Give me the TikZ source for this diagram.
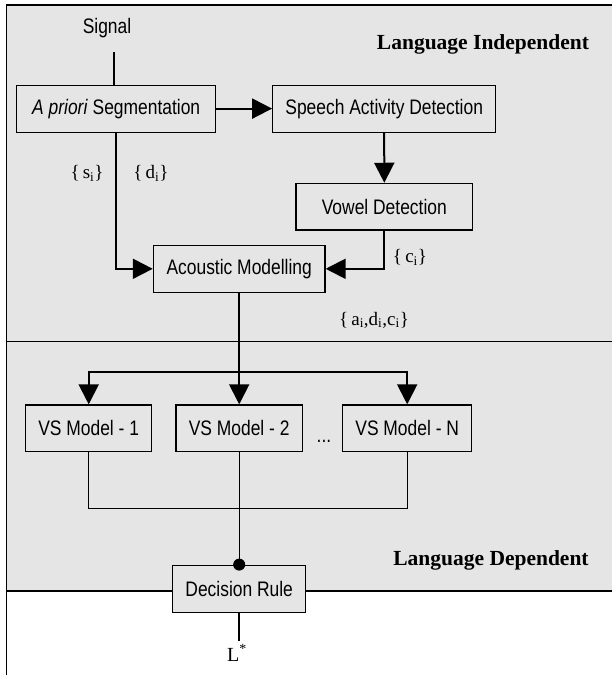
\documentclass[tikz,border=0pt]{standalone}
\usepackage{fontspec}
\usetikzlibrary{arrows.meta}
\newfontfamily\helv[FakeStretch=0.83]{Liberation Sans}
\newfontfamily\tms{Liberation Serif}
\definecolor{panel}{gray}{0.9}
\tikzset{
  blk/.style={draw,line width=1.2pt,fill=panel,inner sep=0pt,font=\helv\fontsize{21}{24}\selectfont},
  flow/.style={line width=2pt,-{Triangle[width=20pt,length=20pt]}},
  feed/.style={line width=2pt},
  wire/.style={line width=1.2pt},
  lbl/.style={font=\tms\fontsize{19}{22}\selectfont},
  zone/.style={font=\tms\bfseries\fontsize{21.5}{24}\selectfont}
}

\begin{document}
\begin{tikzpicture}[x=1pt,y=-1pt]
  \useasboundingbox (0,0) rectangle (612,675);
  \fill[panel] (6.7,5) rectangle (612,591);
  \draw[line width=1.5pt] (612,5) -- (6.7,5) -- (6.7,675);
  \draw[line width=1.5pt] (6.7,341.7) -- (612,341.7) (6.7,591) -- (612,591);
  \node[zone] (indep) at (483,44) {Language Independent};
  \node[zone] (dep) at (491,560) {Language Dependent};

  \node[font=\helv\fontsize{21}{24}\selectfont] (sig) at (107,28) {Signal};
  \coordinate (sigtop) at (114,52);
  \node[blk,minimum width=199pt,minimum height=47pt] (seg) at (116.2,108.6) {\textit{A priori} Segmentation};
  \node[blk,minimum width=223pt,minimum height=47pt] (sad) at (384.2,108.6) {Speech Activity Detection};
  \node[blk,minimum width=176.7pt,minimum height=46.7pt] (vowel) at (384.3,206.7) {Vowel Detection};
  \node[blk,minimum width=171.7pt,minimum height=47pt] (acm) at (239.2,268.8) {Acoustic Modelling};

  \draw[feed] (sigtop) -- (sigtop |- seg.north);
  \draw[flow] (seg.east) -- (sad.west);
  \draw[flow] (sad.south) -- (vowel.north);
  \draw[flow] (seg.south) |- (acm.west);
  \draw[flow] (vowel.south) |- (acm.east);

  \node[lbl] (si) at (87,173) {\{\,s\textsubscript{i}\}};
  \node[lbl] (di) at (151,173) {\{\,d\textsubscript{i}\}};
  \node[lbl] (ci) at (410,257) {\{\,c\textsubscript{i}\}};
  \node[lbl] (adc) at (374,320) {\{\,a\textsubscript{i},d\textsubscript{i},c\textsubscript{i}\}};

  \foreach \nm/\cx/\bw/\txt in {vs1/88.7/126/1, vs2/239.2/126.3/2, vsN/407.2/129/N}{%
    \node[blk,minimum width=\bw pt,minimum height=46.7pt] (\nm) at (\cx,428.3) {VS Model - \txt};
  }
  \node[font=\helv\fontsize{21}{24}\selectfont,anchor=base] (dots) at (324,442) {...};

  \coordinate (split) at (239.2,372.3);
  \coordinate (merge) at (239.2,508.3);
  \draw[feed] (acm.south) -- (split);
  \foreach \nm in {vs1,vs2,vsN}{%
    \draw[flow] (split) -| (\nm.north);
  }

  \node[blk,minimum width=133pt,minimum height=47pt] (dec) at (239.2,588.7) {Decision Rule};
  \draw[wire] (vs1.south) |- (merge) -| (vsN.south);
  \draw[wire] (vs2.south) -- (dec.north);
  \fill (dec.north) circle[radius=6pt];

  \node[lbl,font=\tms\fontsize{20}{22}\selectfont] (lst) at (237,653) {L\textsuperscript{*}};
  \draw[feed] (dec.south) -- (dec.south |- lst.north);
\end{tikzpicture}
\end{document}
